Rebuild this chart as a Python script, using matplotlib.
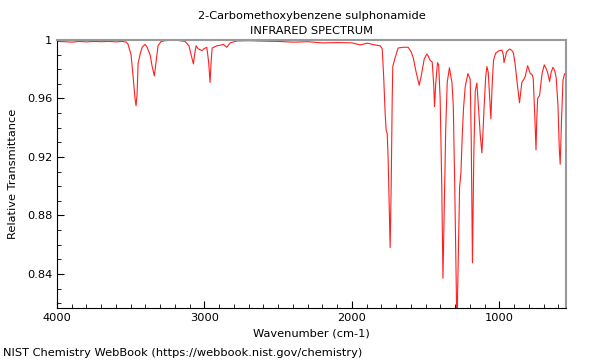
import matplotlib
matplotlib.use("Agg")
import matplotlib.pyplot as plt
from matplotlib.ticker import MultipleLocator, FuncFormatter

# spectrum (wavenumber, transmittance)
wavenumber = [
    4000, 3950, 3900, 3850, 3800, 3750, 3700, 3650, 3600, 3560, 3530,
    3518, 3498, 3484, 3471, 3464, 3457, 3450, 3437, 3423, 3403, 3389, 3369,
    3355, 3340, 3328, 3315, 3294, 3267, 3200, 3132, 3105, 3091, 3075, 3067,
    3057, 3043, 3018, 3003, 2984, 2972, 2962, 2955, 2948, 2917, 2883, 2872,
    2849, 2826, 2781, 2700, 2600, 2500, 2400, 2300, 2200, 2100, 2000, 1944,
    1897, 1843, 1809, 1795, 1785, 1775, 1768, 1761, 1755, 1748, 1741, 1734,
    1727, 1723, 1707, 1687, 1653, 1619, 1599, 1585, 1565, 1544, 1531, 1510,
    1492, 1483, 1470, 1456, 1446, 1440, 1432, 1420, 1412, 1402, 1391, 1383,
    1375, 1364, 1354, 1339, 1322, 1313, 1303, 1293, 1288, 1283, 1270, 1261,
    1252, 1243, 1232, 1214, 1198, 1191, 1183, 1174, 1164, 1153, 1142, 1130,
    1119, 1110, 1104, 1093, 1085, 1076, 1066, 1058, 1049, 1040, 1025, 1006,
    983, 974, 969, 951, 932, 917, 905, 893, 882, 864, 848, 835, 825, 809,
    798, 791, 780, 771, 761, 752, 747, 741, 728, 711, 696, 686, 674, 660,
    649, 637, 625, 615, 603, 594, 588, 579, 569, 558, 550,
]
transmittance = [
    0.9990, 0.9988, 0.9985, 0.9990, 0.9987, 0.9990, 0.9988, 0.9990, 0.9987, 0.9990, 0.9985,
    0.997, 0.990, 0.975, 0.960, 0.955, 0.963, 0.984, 0.990, 0.995, 0.997, 0.995, 0.990,
    0.982, 0.9754, 0.985, 0.996, 0.999, 0.9995, 1.0, 0.999, 0.996, 0.990, 0.9836, 0.990,
    0.996, 0.994, 0.9927, 0.994, 0.995, 0.985, 0.971, 0.985, 0.9945, 0.996, 0.9966, 0.997,
    0.995, 0.998, 0.9993, 0.9995, 0.9992, 0.999, 0.9985, 0.9988, 0.998, 0.9982, 0.998, 0.9966,
    0.9978, 0.9966, 0.996, 0.994, 0.975, 0.950, 0.938, 0.936, 0.920, 0.890, 0.858, 0.900,
    0.960, 0.982, 0.988, 0.9945, 0.995, 0.995, 0.992, 0.988, 0.978, 0.969, 0.975, 0.987,
    0.9904, 0.989, 0.986, 0.985, 0.970, 0.9544, 0.970, 0.9845, 0.983, 0.960, 0.900, 0.837,
    0.880, 0.940, 0.971, 0.981, 0.971, 0.955, 0.900, 0.830, 0.800, 0.830, 0.8997, 0.909,
    0.935, 0.954, 0.968, 0.977, 0.973, 0.930, 0.8475, 0.920, 0.965, 0.9706, 0.954, 0.935,
    0.9227, 0.940, 0.954, 0.975, 0.9818, 0.978, 0.960, 0.946, 0.970, 0.9863, 0.991, 0.9925,
    0.993, 0.990, 0.9845, 0.992, 0.9938, 0.993, 0.991, 0.983, 0.9726, 0.957, 0.971, 0.973, 0.975, 0.9824,
    0.979, 0.977, 0.9765, 0.974, 0.950, 0.9248, 0.945, 0.960, 0.962, 0.977, 0.983, 0.981, 0.978, 0.9715,
    0.978, 0.9813, 0.979, 0.974, 0.955, 0.925, 0.915, 0.945, 0.9726, 0.977, 0.976,
]

fs = 8.2

fig = plt.figure(figsize=(6, 3.6), dpi=100)
ax = fig.add_axes([0.095, 0.145, 0.848, 0.744])

ax.plot(wavenumber, transmittance, color="#ff2020", lw=0.8)

ax.set_xlim(4000, 550)
ax.set_ylim(0.8168, 1.0)

ax.xaxis.set_major_locator(MultipleLocator(1000))
ax.xaxis.set_minor_locator(MultipleLocator(100))
ax.yaxis.set_major_locator(MultipleLocator(0.04))
ax.yaxis.set_minor_locator(MultipleLocator(0.01))
ax.yaxis.set_major_formatter(FuncFormatter(lambda v, p: "%g" % round(v, 2)))
ax.tick_params(which="both", direction="in", top=False, right=False, labelsize=fs)
ax.tick_params(which="major", length=5)
ax.tick_params(which="minor", length=3)

for s in ["top", "right"]:
    ax.spines[s].set_color("#999999")
    ax.spines[s].set_linewidth(1.5)

ax.set_xlabel("Wavenumber (cm-1)", fontsize=fs, labelpad=4)
ax.set_ylabel("Relative Transmittance", fontsize=fs, labelpad=6)
ax.set_title("2-Carbomethoxybenzene sulphonamide\nINFRARED SPECTRUM", fontsize=fs,
             pad=4, linespacing=1.7)

fig.text(0.005, 0.012, "NIST Chemistry WebBook (https://webbook.nist.gov/chemistry)", fontsize=fs)

fig.savefig("out.png", dpi=100)
